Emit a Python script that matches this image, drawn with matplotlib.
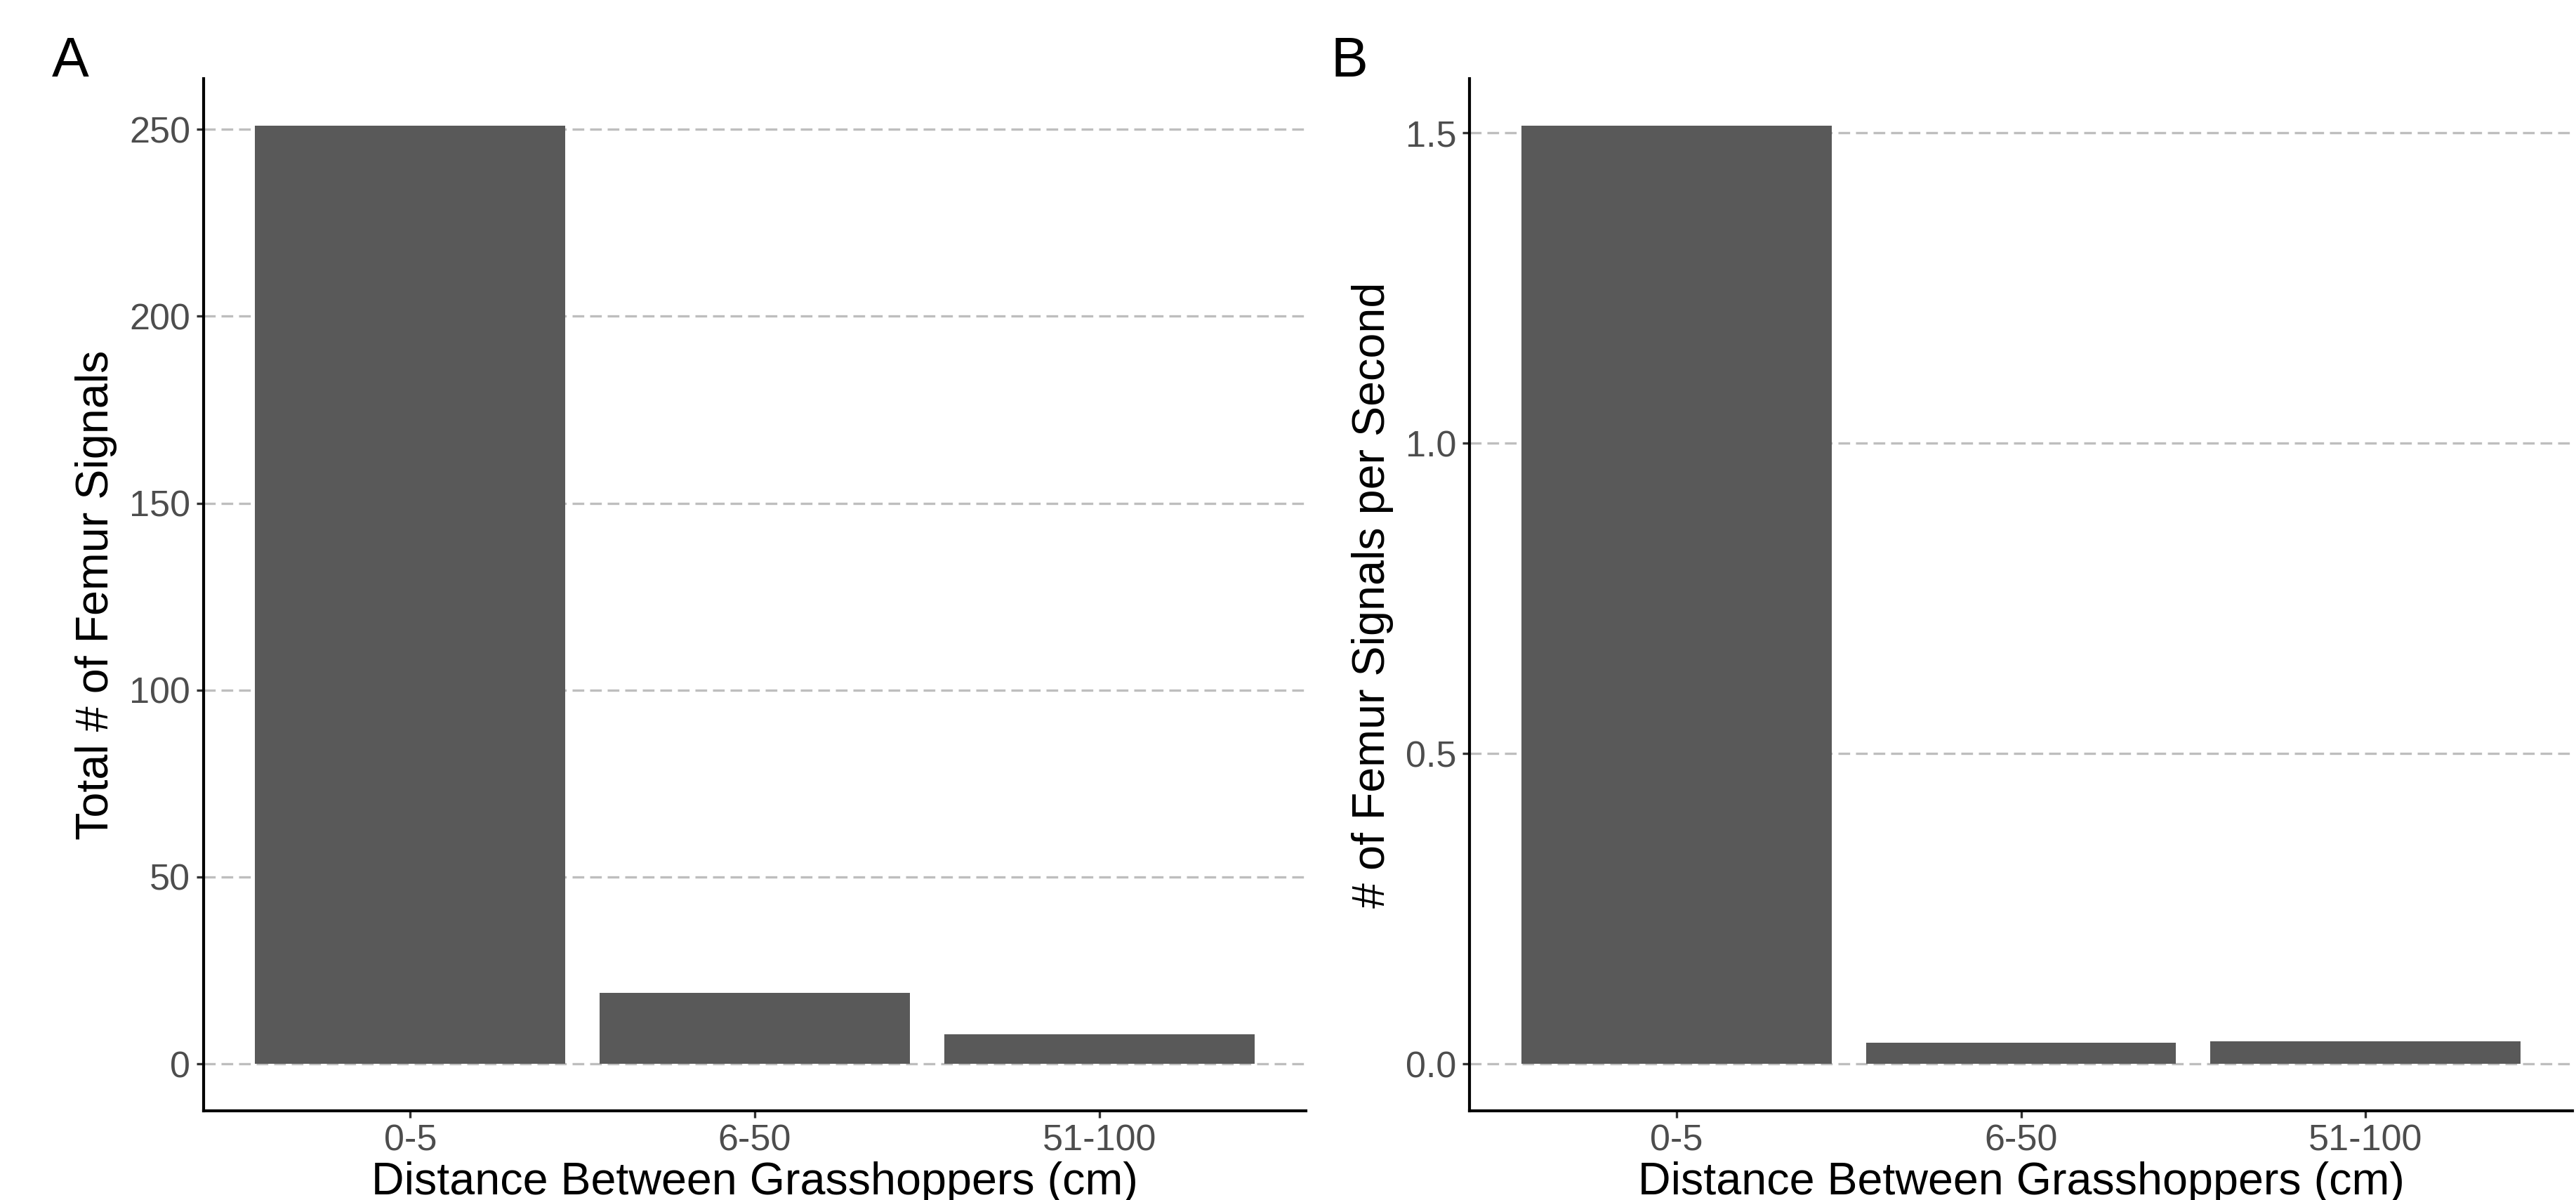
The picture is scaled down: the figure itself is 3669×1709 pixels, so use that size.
import matplotlib
matplotlib.use("Agg")
import matplotlib.pyplot as plt
from matplotlib import font_manager

categories = ["0-5", "6-50", "51-100"]
total_signals = [251, 19, 8]
signals_per_second = [1.512, 0.034, 0.036]
ticks_a = [0, 50, 100, 150, 200, 250]
ticks_b = [0.0, 0.5, 1.0, 1.5]
ticklabels_b = ["0.0", "0.5", "1.0", "1.5"]

avail = {f.name for f in font_manager.fontManager.ttflist}
fam = [f for f in ["Liberation Sans Narrow", "Liberation Sans", "DejaVu Sans"] if f in avail]
plt.rcParams['font.family'] = fam

W, H, DPI = 3669, 1709, 300
fig = plt.figure(figsize=(W / DPI, H / DPI), dpi=DPI)

def panel(rect, values, ticks, ticklabels, ylabel, letter, letter_x):
    ax = fig.add_axes(rect)
    x = list(range(1, len(categories) + 1))
    ax.bar(x, values, width=0.9, color="#595959", zorder=2)
    vmax = max(values)
    ax.set_ylim(-0.05 * vmax, vmax * 1.05)
    ax.set_xlim(0.4, len(categories) + 0.6)
    ax.set_xticks(x)
    ax.set_xticklabels(categories)
    ax.set_yticks(ticks)
    ax.set_yticklabels(ticklabels)
    ax.yaxis.grid(True, color="#bebebe", linestyle=(0, (5, 2.5)), linewidth=0.8, zorder=1)
    ax.xaxis.grid(False)
    for s in ["top", "right"]:
        ax.spines[s].set_visible(False)
    for s in ["left", "bottom"]:
        ax.spines[s].set_linewidth(1.0)
        ax.spines[s].set_color("black")
    ax.tick_params(axis="both", length=2.5, width=0.8, color="#333333",
                   labelcolor="#4d4d4d", labelsize=12.5, pad=2)
    ax.set_xlabel("Distance Between Grasshoppers (cm)", fontsize=15.5, color="black", labelpad=1)
    ax.set_ylabel(ylabel, fontsize=15.5, color="black", labelpad=4)
    fig.text(letter_x, 0.97, letter, fontsize=19, color="black", ha="left", va="top")
    return ax

panel([0.0790, 0.0743, 0.4280, 0.8602], total_signals, ticks_a,
      [str(t) for t in ticks_a], "Total # of Femur Signals", "A", 0.0200)
panel([0.5705, 0.0743, 0.4281, 0.8602], signals_per_second, ticks_b,
      ticklabels_b, "# of Femur Signals per Second", "B", 0.5165)

fig.savefig("out.png", dpi=DPI)
